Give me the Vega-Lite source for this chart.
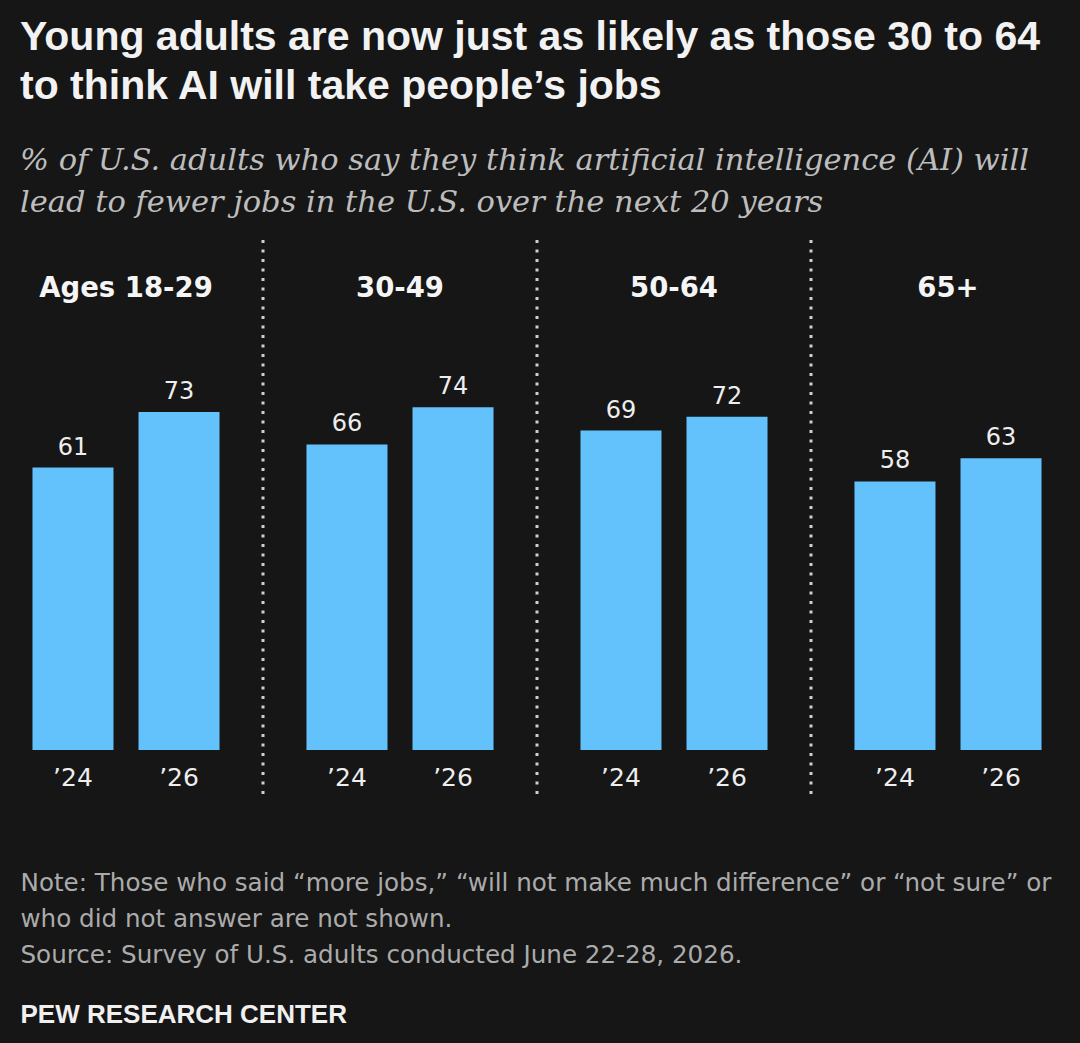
{
  "$schema": "https://vega.github.io/schema/vega-lite/v6.json",
  "width": 1096,
  "height": 560,
  "autosize": "none",
  "padding": {"left": -11, "right": -5, "top": 240, "bottom": 243},
  "background": "#161616",
  "config": {"view": {"stroke": null}},
  "title": {
    "text": ["Young adults are now just as likely as those 30 to 64", "to think AI will take people’s jobs"],
    "subtitle": ["% of U.S. adults who say they think artificial intelligence (AI) will", "lead to fewer jobs in the U.S. over the next 20 years"],
    "anchor": "start",
    "frame": "group",
    "dx": 31,
    "font": "Liberation Sans",
    "fontSize": 41,
    "fontWeight": "bold",
    "color": "#f2f2f2",
    "lineHeight": 49,
    "subtitleFont": "DejaVu Serif",
    "subtitleFontStyle": "italic",
    "subtitleFontSize": 30.5,
    "subtitleColor": "#bdbdbd",
    "subtitleLineHeight": 42,
    "subtitlePadding": 38,
    "offset": 19
  },
  "data": {
    "values": [
      {"group": "Ages 18-29", "year": "’24", "value": 61},
      {"group": "Ages 18-29", "year": "’26", "value": 73},
      {"group": "30-49", "year": "’24", "value": 66},
      {"group": "30-49", "year": "’26", "value": 74},
      {"group": "50-64", "year": "’24", "value": 69},
      {"group": "50-64", "year": "’26", "value": 72},
      {"group": "65+", "year": "’24", "value": 58},
      {"group": "65+", "year": "’26", "value": 63}
    ]
  },
  "encoding": {
    "x": {
      "field": "group",
      "type": "nominal",
      "sort": ["Ages 18-29", "30-49", "50-64", "65+"],
      "scale": {"paddingInner": 0, "paddingOuter": 0},
      "axis": {
        "orient": "bottom",
        "labels": false,
        "ticks": false,
        "domain": false,
        "grid": false,
        "title": ["Note: Those who said “more jobs,” “will not make much difference” or “not sure” or", "who did not answer are not shown.", "Source: Survey of U.S. adults conducted June 22-28, 2026."],
        "titleFont": "DejaVu Sans",
        "titleFontSize": 24.6,
        "titleFontWeight": "normal",
        "titleColor": "#ababab",
        "titleAnchor": "start",
        "titleAlign": "left",
        "titleBaseline": "alphabetic",
        "titleLineHeight": 36,
        "titleX": 31,
        "titleY": 90
      }
    }
  },
  "layer": [
    {
      "mark": {"type": "bar", "color": "#63c1fb"},
      "encoding": {
        "xOffset": {"field": "year", "type": "nominal", "scale": {"paddingInner": 0.236, "paddingOuter": 0.41}},
        "y": {
          "field": "value",
          "type": "quantitative",
          "title": "PEW RESEARCH CENTER",
          "scale": {"domain": [-10.8, 110.15], "nice": false, "zero": false},
          "axis": {
            "orient": "left",
            "labels": false,
            "ticks": false,
            "domain": false,
            "grid": false,
            "titleAngle": 0,
            "titleFont": "Liberation Sans",
            "titleFontSize": 26,
            "titleFontWeight": "bold",
            "titleColor": "#f0f0f0",
            "titleAlign": "left",
            "titleBaseline": "alphabetic",
            "titleX": 31,
            "titleY": 782
          }
        },
        "y2": {"datum": 0}
      }
    },
    {
      "mark": {"type": "text", "baseline": "bottom", "dy": -8, "font": "DejaVu Sans", "fontSize": 24, "color": "#eeeeee"},
      "encoding": {
        "xOffset": {"field": "year", "type": "nominal"},
        "y": {"field": "value", "type": "quantitative", "title": "PEW RESEARCH CENTER"},
        "text": {"field": "value", "type": "quantitative"}
      }
    },
    {
      "mark": {"type": "text", "baseline": "middle", "dy": 28, "font": "DejaVu Sans", "fontSize": 25, "color": "#eeeeee"},
      "encoding": {
        "xOffset": {"field": "year", "type": "nominal"},
        "y": {"datum": 0, "title": "PEW RESEARCH CENTER"},
        "text": {"field": "year", "type": "nominal"}
      }
    },
    {
      "data": {"values": [{"group": "Ages 18-29"}, {"group": "30-49"}, {"group": "50-64"}, {"group": "65+"}]},
      "mark": {"type": "text", "baseline": "middle", "dy": 2, "font": "DejaVu Sans", "fontSize": 27.5, "fontWeight": "bold", "color": "#f5f5f5"},
      "encoding": {
        "y": {"datum": 100, "title": "PEW RESEARCH CENTER"},
        "text": {"field": "group", "type": "nominal"}
      }
    },
    {
      "data": {"values": [{"group": "30-49"}, {"group": "50-64"}, {"group": "65+"}]},
      "mark": {"type": "rule", "color": "#cfcfcf", "strokeWidth": 3, "strokeDash": [3, 6.5], "strokeCap": "butt"},
      "encoding": {
        "x": {"field": "group", "type": "nominal", "sort": ["Ages 18-29", "30-49", "50-64", "65+"], "bandPosition": 0}
      }
    }
  ]
}
